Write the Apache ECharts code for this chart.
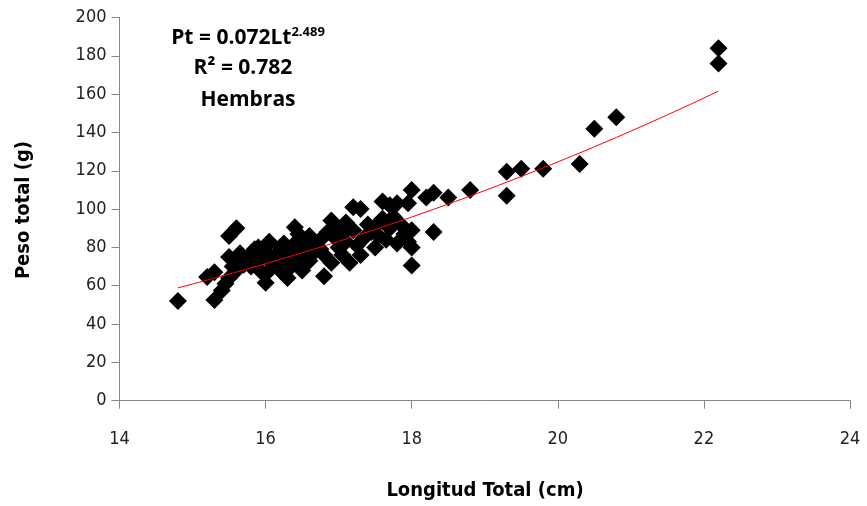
<!DOCTYPE html>
<html>
<head>
<meta charset="utf-8">
<script src="https://cdn.jsdelivr.net/npm/echarts@6/dist/echarts.min.js"></script>
<style>
  html, body { margin: 0; padding: 0; background: #fff; }
  #chart { width: 867px; height: 506px; }
</style>
</head>
<body>
<div id="chart"></div>
<script>
// Longitud total (cm) of each female
const longitud = [
  14.8, 15.2, 15.3, 15.3, 15.4, 15.45, 15.5, 15.5, 15.6, 15.5,
  15.55, 15.6, 15.65, 15.7, 15.75, 15.8, 15.8, 15.85, 15.9, 15.9,
  15.95, 16.0, 16.0, 16.0, 16.05, 16.1, 16.1, 16.15, 16.2, 16.2,
  16.25, 16.3, 16.3, 16.35, 16.4, 16.45, 16.4, 16.45, 16.5, 16.5,
  16.55, 16.6, 16.6, 16.65, 16.7, 16.75, 16.8, 16.8, 16.85, 16.9,
  16.9, 16.95, 17.0, 17.0, 17.05, 17.05, 17.1, 17.1, 17.15, 17.2,
  17.2, 17.3, 17.3, 17.35, 17.4, 17.45, 17.5, 17.55, 17.6, 17.6,
  17.65, 17.7, 17.75, 17.8, 17.8, 17.85, 17.9, 17.95, 17.95, 18.0,
  18.0, 18.0, 18.0, 18.2, 18.3, 18.3, 18.5, 18.8, 19.3, 19.3,
  19.5, 19.8, 20.3, 20.5, 20.8, 22.2, 22.2,
  15.6, 15.85, 16.05, 16.25, 16.55, 16.75, 17.0, 17.25, 17.5, 17.7
];
// Peso total (g) of each female
const peso = [
  52, 64.5, 67, 52.5, 57.5, 61, 64, 86, 90, 75,
  70, 73, 77, 71, 74, 76, 70, 79, 73, 80,
  67, 61.5, 75, 78, 83, 70, 72, 76, 80, 68,
  74, 64, 78, 70, 90.5, 87, 82, 75, 68, 84,
  79, 73, 86, 77, 81, 84, 65, 76, 88, 94,
  72, 85, 90, 80, 76, 87, 93, 83, 72, 101,
  89, 100, 76, 85, 92, 88, 91, 86, 104, 95,
  84, 102, 96, 103, 82, 92, 87, 103, 83, 110,
  89, 80, 70.5, 106, 108.5, 88, 106, 110, 119.5, 107,
  121, 121, 123.5, 142, 148, 176, 184,
  68, 72, 68, 82, 74, 79, 84, 81, 80, 90
];

// Potential fit Pt = a * Lt^b
const coefA = 0.072;
const coefB = 2.489;
const r2 = '0.782';
const fitFrom = 14.8;
const fitTo = 22.2;

const xTicks = { min: 14, max: 24, interval: 2 };
const yTicks = { min: 0, max: 200, interval: 20 };

const points = longitud.map((x, i) => [x, peso[i]]);
const curve = [];
for (let i = 0; i <= 74; i++) {
  const x = fitFrom + (fitTo - fitFrom) * i / 74;
  curve.push([x, coefA * Math.pow(x, coefB)]);
}

const axisGray = '#868686';
const labelFont = "'DejaVu Sans Condensed', 'Liberation Sans', sans-serif";
const eqFont = "'Open Sans', sans-serif";

const chart = echarts.init(document.getElementById('chart'), null, { renderer: 'canvas' });
chart.setOption({
  animation: false,
  backgroundColor: '#ffffff',
  grid: { left: 119.5, right: 17, top: 17.5, bottom: 105.3, containLabel: false },
  xAxis: {
    type: 'value',
    min: xTicks.min, max: xTicks.max, interval: xTicks.interval,
    axisLine: { show: true, onZero: false, lineStyle: { color: axisGray, width: 1 } },
    axisTick: { show: true, inside: false, length: 8, lineStyle: { color: axisGray } },
    splitLine: { show: false },
    axisLabel: { margin: 30, fontSize: 18, color: '#222', fontFamily: labelFont }
  },
  yAxis: {
    type: 'value',
    min: yTicks.min, max: yTicks.max, interval: yTicks.interval,
    axisLine: { show: true, onZero: false, lineStyle: { color: axisGray, width: 1 } },
    axisTick: { show: true, inside: false, length: 8, lineStyle: { color: axisGray } },
    splitLine: { show: false },
    axisLabel: { margin: 13, fontSize: 18, color: '#222', fontFamily: labelFont }
  },
  series: [
    {
      type: 'scatter',
      data: points,
      symbol: 'diamond',
      symbolSize: 18,
      itemStyle: { color: '#000000', opacity: 1 },
      emphasis: { disabled: true },
      z: 2
    },
    {
      type: 'line',
      data: curve,
      showSymbol: false,
      smooth: false,
      lineStyle: { color: '#ff0000', width: 1 },
      z: 3
    }
  ],
  // Equation, coefficient of determination, group name and axis titles
  graphic: [
    {
      type: 'text', x: 248, y: 38,
      style: {
        text: '{b|Pt = ' + coefA + 'Lt}{s|' + coefB + '}',
        align: 'center', verticalAlign: 'middle',
        rich: {
          b: { fontSize: 21, fontWeight: 'bold', fontFamily: eqFont, fill: '#000' },
          s: { fontSize: 13, fontWeight: 'bold', fontFamily: eqFont, fill: '#000', padding: [0, 0, 12, 0] }
        }
      }
    },
    {
      type: 'text', x: 243, y: 68,
      style: {
        text: 'R² = ' + r2, align: 'center', verticalAlign: 'middle',
        font: "bold 21px " + eqFont, fill: '#000'
      }
    },
    {
      type: 'text', x: 248, y: 100,
      style: {
        text: 'Hembras', align: 'center', verticalAlign: 'middle',
        font: "bold 21px " + eqFont, fill: '#000'
      }
    },
    {
      type: 'text', x: 485, y: 491,
      style: {
        text: 'Longitud Total (cm)', align: 'center', verticalAlign: 'middle',
        font: "bold 20px " + labelFont, fill: '#000'
      }
    },
    {
      type: 'text', x: 24, y: 210, rotation: Math.PI / 2,
      style: {
        text: 'Peso total (g)', align: 'center', verticalAlign: 'middle',
        font: "bold 20px " + labelFont, fill: '#000'
      }
    }
  ]
});
</script>
</body>
</html>
